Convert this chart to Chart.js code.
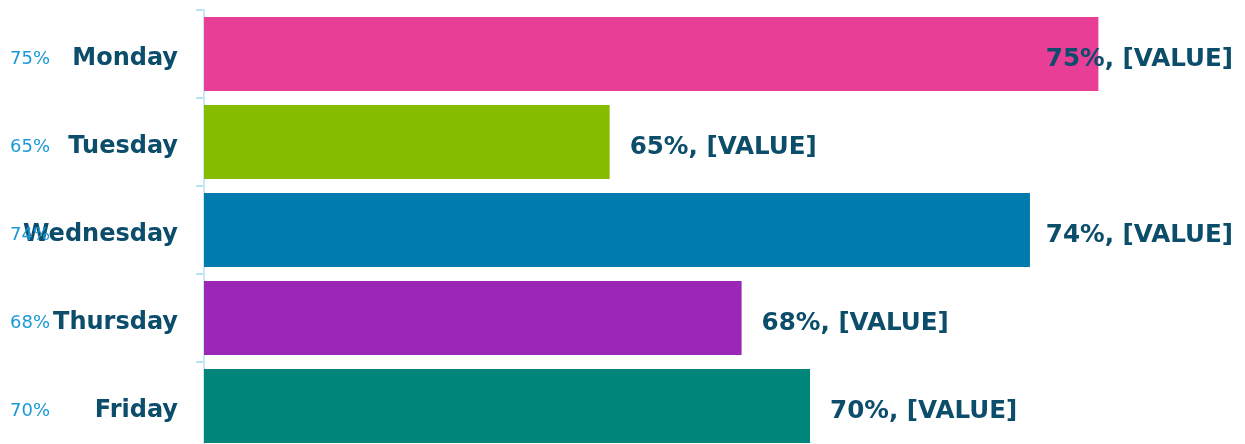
<!DOCTYPE html>
<html>
<head>
<meta charset="utf-8">
<script src="https://cdn.jsdelivr.net/npm/chart.js@4"></script>
<style>
  html, body { margin: 0; padding: 0; background: #fff; overflow: hidden; }
  #wrap { width: 1245px; height: 454px; }
</style>
</head>
<body>
<div id="wrap"><canvas id="chart" width="1245" height="454"></canvas></div>
<script>
// data
const days = ["Monday", "Tuesday", "Wednesday", "Thursday", "Friday"];
const barValues = [75.0, 65.0, 73.6, 67.7, 69.1];
const pctLabels = ["75%", "65%", "74%", "68%", "70%"];
const valueLabels = ["75%, [VALUE]", "65%, [VALUE]", "74%, [VALUE]", "68%, [VALUE]", "70%, [VALUE]"];
const barColors = ["#E83E96", "#86BC00", "#007BAE", "#9A27B6", "#00857A"];

const textColor = "#0B4D6B";
const fontFamily = "'DejaVu Sans', sans-serif";

// draws value labels after the bars and the small percent column at the left
const labelPlugin = {
    id: "labels",
    afterDatasetsDraw(chart) {
        const ctx = chart.ctx;
        const meta = chart.getDatasetMeta(0);
        const right = chart.chartArea.right - 12;
        ctx.save();
        ctx.textBaseline = "middle";
        meta.data.forEach((bar, i) => {
            ctx.font = "bold 24.6px " + fontFamily;
            ctx.fillStyle = textColor;
            ctx.textAlign = "left";
            const w = ctx.measureText(valueLabels[i]).width;
            const x = Math.min(bar.x + 20, right - w);
            ctx.fillText(valueLabels[i], x, bar.y + 6);

            ctx.font = "18px " + fontFamily;
            ctx.fillStyle = "#1A9AD6";
            ctx.fillText(pctLabels[i], 10, bar.y + 5);
        });
        ctx.restore();
    },
};

new Chart(document.getElementById("chart"), {
    type: "bar",
    data: {
        labels: days,
        datasets: [
            {
                data: barValues,
                backgroundColor: barColors,
                borderWidth: 0,
                categoryPercentage: 1.0,
                barPercentage: 0.84,
            },
        ],
    },
    options: {
        indexAxis: "y",
        responsive: false,
        animation: false,
        layout: { padding: { top: 10, bottom: 4, left: 0, right: 0 } },
        plugins: {
            legend: { display: false },
            tooltip: { enabled: false },
        },
        scales: {
            x: {
                display: false,
                min: 56.7,
                max: 78,
            },
            y: {
                afterFit: (scale) => {
                    scale.width = 204;
                    scale.paddingTop = 0;
                    scale.paddingBottom = 0;
                },
                border: { display: true, color: "#C6E9F8", width: 2 },
                grid: {
                    drawOnChartArea: false,
                    drawTicks: true,
                    tickLength: 8,
                    color: "#B5E1F5",
                    lineWidth: 2,
                },
                ticks: {
                    color: textColor,
                    padding: 18,
                    labelOffset: 5,
                    font: { family: fontFamily, size: 24, weight: "bold" },
                },
            },
        },
    },
    plugins: [labelPlugin],
});
</script>
</body>
</html>
